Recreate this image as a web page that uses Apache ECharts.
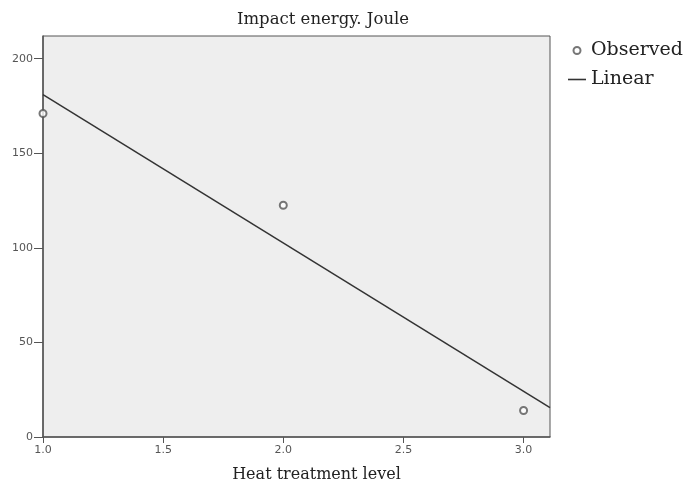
<!DOCTYPE html>
<html>
<head>
<meta charset="utf-8">
<script src="https://cdn.jsdelivr.net/npm/echarts@6/dist/echarts.min.js"></script>
<style>
  html, body { margin: 0; padding: 0; background: #fff; }
  #chart { width: 688px; height: 488px; }
</style>
</head>
<body>
<div id="chart"></div>
<script>
// observed points: heat treatment level vs impact energy
const levels = [1, 2, 3];
const observed = [171, 122.5, 14];
// fitted linear line, drawn across the x range
const fitX = [1, 3.11];
const fitY = [181, 15.5];
const xTicks = [1.0, 1.5, 2.0, 2.5, 3.0];
const yTicks = [0, 50, 100, 150, 200];

const serif = "'DejaVu Serif', 'Liberation Serif', serif";
const chart = echarts.init(document.getElementById('chart'));

chart.setOption({
  backgroundColor: '#fff',
  animation: false,
  title: {
    text: 'Impact energy. Joule',
    left: 318,
    textAlign: 'center',
    top: 6,
    textStyle: { fontFamily: serif, fontSize: 16.5, fontWeight: 'normal', color: '#222' }
  },
  legend: {
    orient: 'vertical',
    left: 563,
    top: 36,
    itemWidth: 18,
    itemHeight: 7,
    itemGap: 10,
    textStyle: { fontFamily: serif, fontSize: 19, color: '#222' },
    data: [
      { name: 'Observed', icon: 'emptyCircle' },
      { name: 'Linear', icon: 'path://M0,0 L18,0 L18,1.6 L0,1.6 Z' }
    ]
  },
  grid: {
    left: 43, top: 36, right: 138, bottom: 51,
    outerBoundsMode: 'none',
    show: true,
    backgroundColor: '#eeeeee',
    borderColor: '#555',
    borderWidth: 1
  },
  xAxis: {
    type: 'value',
    min: 1, max: 3.11,
    interval: 0.5,
    name: 'Heat treatment level',
    nameLocation: 'middle',
    nameGap: 30,
    nameTextStyle: { fontFamily: serif, fontSize: 16, color: '#222', padding: [0, 0, 0, 40] },
    axisLine: { lineStyle: { color: '#555', width: 1.5 } },
    axisTick: { show: true, length: 6, lineStyle: { color: '#555' } },
    axisLabel: {
      fontFamily: 'DejaVu Sans', fontSize: 11, color: '#555', margin: 8,
      showMaxLabel: false,
      formatter: v => xTicks.includes(v) ? v.toFixed(1) : ''
    },
    splitLine: { show: false }
  },
  yAxis: {
    type: 'value',
    min: 0, max: 212,
    interval: 50,
    axisLine: { show: true, lineStyle: { color: '#555', width: 1.5 } },
    axisTick: { show: true, length: 9, lineStyle: { color: '#555' } },
    axisLabel: {
      fontFamily: 'DejaVu Sans', fontSize: 11, color: '#555', margin: 10,
      showMaxLabel: false,
      formatter: v => yTicks.includes(v) ? String(v) : ''
    },
    splitLine: { show: false }
  },
  series: [
    {
      name: 'Observed',
      type: 'scatter',
      symbol: 'emptyCircle',
      symbolSize: 7,
      itemStyle: { color: '#555', borderWidth: 1.5 },
      data: levels.map((x, i) => [x, observed[i]])
    },
    {
      name: 'Linear',
      type: 'line',
      symbol: 'none',
      lineStyle: { color: '#333', width: 1.5 },
      itemStyle: { color: '#333' },
      data: fitX.map((x, i) => [x, fitY[i]])
    }
  ]
});
</script>
</body>
</html>
